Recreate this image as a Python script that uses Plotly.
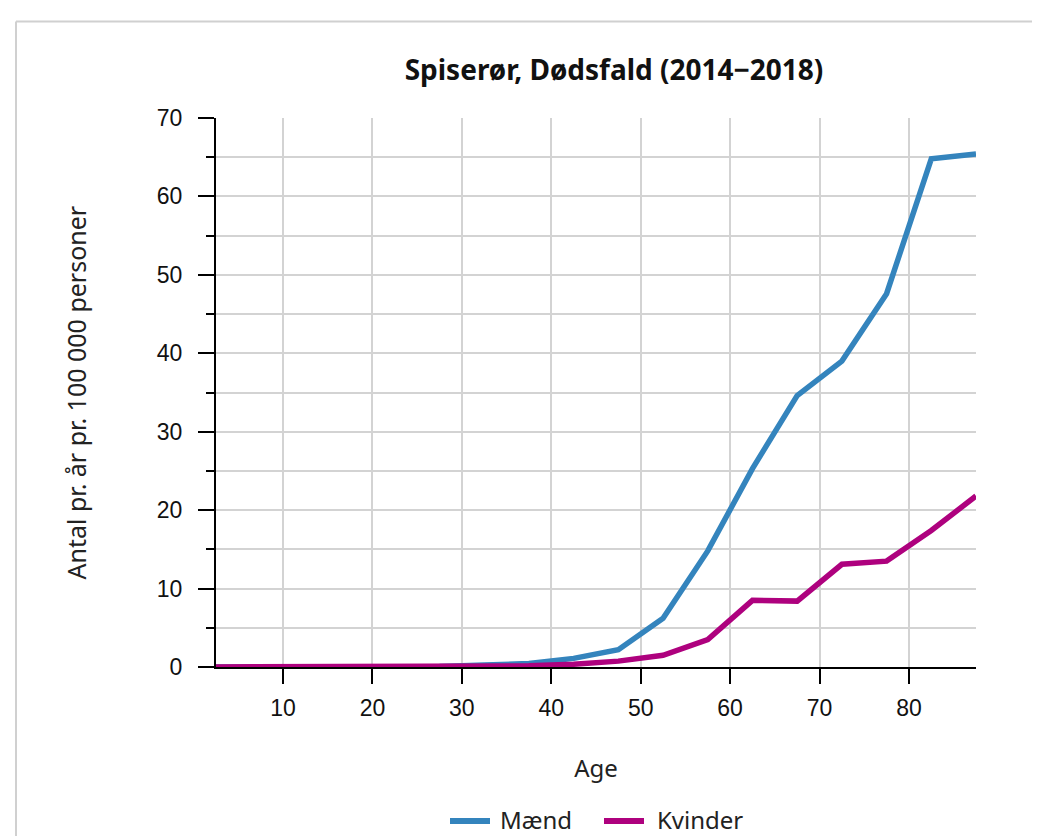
import plotly.graph_objects as go

ages = [2.5, 7.5, 12.5, 17.5, 22.5, 27.5, 32.5, 37.5, 42.5, 47.5, 52.5, 57.5, 62.5, 67.5, 72.5, 77.5, 82.5, 87.5]
maend = [0.0, 0.0, 0.0, 0.0, 0.0, 0.05, 0.25, 0.45, 1.1, 2.2, 6.2, 14.8, 25.3, 34.6, 39.0, 47.6, 64.8, 65.4]
kvinder = [0.0, 0.0, 0.0, 0.0, 0.0, 0.0, 0.05, 0.15, 0.35, 0.75, 1.5, 3.5, 8.5, 8.4, 13.1, 13.5, 17.4, 21.8]
x_ticks = [10, 20, 30, 40, 50, 60, 70, 80]
series_names = ["Mænd", "Kvinder"]
series_colors = ["#3484bd", "#ae017e"]

# page offset of the figure (body margin)
OFF = 8
W, H = 1040 - OFF, 836 - OFF
L, R, T, B = 216 - OFF, 976 - OFF, 118 - OFF, 667 - OFF
pw, ph = R - L, B - T


def px_x(p):
    return (p - OFF - L) / pw


def px_y(p):
    return (B - (p - OFF)) / ph


fig = go.Figure()
for name, vals, col in zip(series_names, [maend, kvinder], series_colors):
    fig.add_trace(go.Scatter(x=ages, y=vals, mode="lines", name=name,
                             line=dict(color=col, width=5.5)))

# frame (top and left edges visible in the reference)
frame = dict(color="#d0d0d0", width=2)
shapes = [
    dict(type="line", xref="paper", yref="paper", layer="below",
         x0=px_x(16), x1=px_x(1060), y0=px_y(21.5), y1=px_y(21.5), line=frame),
    dict(type="line", xref="paper", yref="paper", layer="below",
         x0=px_x(16), x1=px_x(16), y0=px_y(21.5), y1=px_y(860), line=frame),
]
annotations = [dict(text="Antal pr. år pr. 100 000 personer", textangle=-90,
                    x=px_x(75), y=0.5, xref="paper", yref="paper",
                    xanchor="center", yanchor="middle", showarrow=False,
                    font=dict(family="Noto Sans", size=25, color="#222"))]

# legend below the plot (symbol 40px long, like the reference)
leg_sym = [(450, 490, 498), (604, 644, 655)]
for (s0, s1, tx), name, col in zip(leg_sym, series_names, series_colors):
    shapes.append(dict(type="line", xref="paper", yref="paper",
                       x0=px_x(s0), x1=px_x(s1), y0=px_y(821), y1=px_y(821),
                       line=dict(color=col, width=6)))
    annotations.append(dict(text=name, x=px_x(tx), y=px_y(819),
                            xref="paper", yref="paper", xanchor="left",
                            yanchor="middle", showarrow=False,
                            font=dict(family="Noto Sans", size=24, color="#222")))

fig.update_layout(
    width=W, height=H,
    margin=dict(l=L, r=W - R, t=T, b=H - B, autoexpand=False),
    paper_bgcolor="white", plot_bgcolor="white",
    title=dict(text="<b>Spiserør, Dødsfald (2014−2018)</b>",
               x=(614 - OFF) / W, xref="container", xanchor="center",
               y=1 - (70 - OFF) / H, yref="container", yanchor="middle",
               font=dict(family="Noto Sans", size=28, color="#111")),
    showlegend=False,
    xaxis=dict(range=[2.5, 87.5], tickvals=x_ticks, showgrid=True,
               gridcolor="#d3d3d3", gridwidth=1.7,
               ticks="outside", ticklen=15, tickwidth=2, tickcolor="black",
               showline=True, linecolor="black", linewidth=2,
               zeroline=False,
               tickfont=dict(family="Liberation Sans", size=23, color="#111"),
               ticklabelstandoff=4,
               title=dict(text="Age", standoff=41,
                          font=dict(family="Noto Sans", size=24, color="#222"))),
    yaxis=dict(range=[0, 70], dtick=10, tick0=0, showgrid=True,
               gridcolor="#d3d3d3", gridwidth=1.7,
               ticks="outside", ticklen=16, tickwidth=2, tickcolor="black",
               showline=True, linecolor="black", linewidth=2,
               zeroline=False,
               minor=dict(dtick=5, tick0=0, showgrid=True, gridcolor="#d3d3d3",
                          gridwidth=1.7, ticks="outside", ticklen=8,
                          tickwidth=2, tickcolor="black"),
               tickfont=dict(family="Liberation Sans", size=23, color="#111"),
               ticklabelstandoff=11),
    annotations=annotations,
    shapes=shapes,
)

fig.write_html("out.html",
               post_script="document.documentElement.style.overflow='hidden';"
                           "document.body.style.overflow='hidden';")
